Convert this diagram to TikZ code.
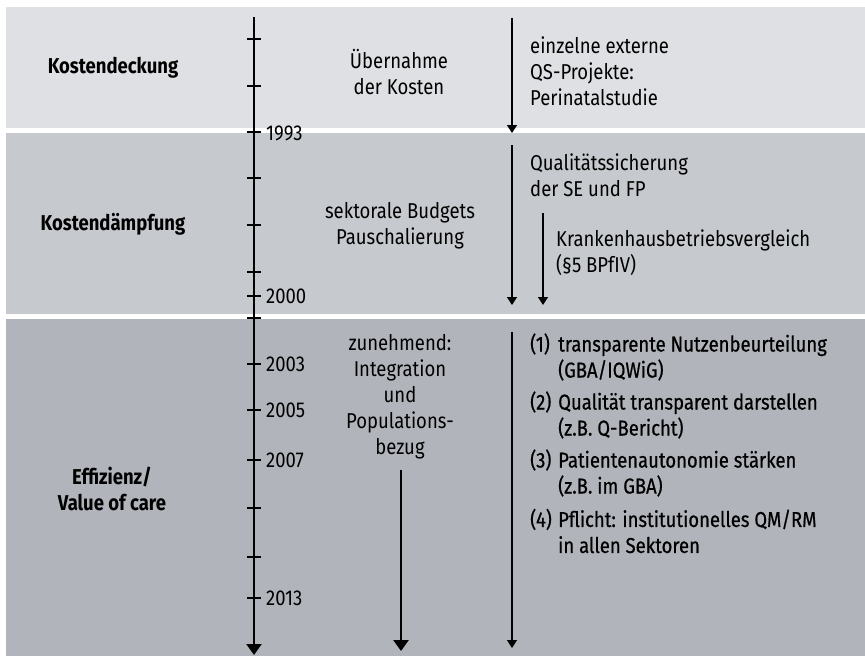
\documentclass[tikz,border=0pt]{standalone}
\usepackage{fontspec}
\setmainfont[FakeStretch=0.86]{Fira Sans}
\newfontfamily\medfont[FakeStretch=0.86,FakeBold=0.6]{Fira Sans}
\usetikzlibrary{arrows.meta}
\definecolor{bandA}{HTML}{DFE0E3}
\definecolor{bandB}{HTML}{C6C9CD}
\definecolor{bandC}{HTML}{B1B5BB}
\newcommand\txtsize{\fontsize{21.5}{26}\selectfont}
\tikzset{
  txt/.style={inner sep=0pt, font=\txtsize},
  phase/.style={txt, align=center, font=\txtsize\bfseries},
  listitem/.style={txt, font=\txtsize\medfont, align=left, anchor=west},
  year/.style={txt, anchor=west},
  axis/.style={line width=2.2pt, -{Triangle[length=11pt,width=15pt]}},
  trend/.style={line width=2.6pt, -{Triangle[length=11pt,width=15pt]}},
  span/.style={line width=1.3pt, -{Triangle[length=8pt,width=10pt]}},
  tick/.style={line width=1.3pt},
}
\begin{document}
\begin{tikzpicture}[x=1pt,y=-1pt]
\useasboundingbox (0,0) rectangle (865,656);
% phase bands
\fill[bandA] (6,7) rectangle (865,128);
\fill[bandB] (6,133) rectangle (865,314);
\fill[bandC] (6,319) rectangle (865,656);

% phase titles
\node[phase] (p1) at (113,68) {Kostendeckung};
\node[phase] (p2) at (113,224) {Kostendämpfung};
\node[phase] (p3) at (112,489) {Effizienz/\\Value of care};

% time axis
\coordinate (axtop) at (254,17);
\coordinate (axbot) at (254,655);
\draw[axis] (axtop) -- (axbot);
\foreach \y in {39,86,132,178,225,272,296,318,364,410,460,508,557,598}
  \draw[tick] (247,\y) -- (261,\y);
\node[year] (y1993) at (266,133) {1993};
\node[year] (y2000) at (266,296) {2000};
\node[year] (y2003) at (266,364) {2003};
\node[year] (y2005) at (266,410) {2005};
\node[year] (y2007) at (266,460) {2007};
\node[year] (y2013) at (266,598) {2013};

% financing column
\node[txt, align=center] (m1) at (399,72) {Übernahme\\der Kosten};
\node[txt, align=center] (m2) at (400,226) {sektorale Budgets\\Pauschalierung};
\node[txt, align=center] (m3) at (400,397) {zunehmend:\\Integration\\und\\Populations-\\bezug};
\coordinate (m3a) at (401,470);
\coordinate (m3b) at (401,651);
\draw[trend] (m3a) -- (m3b);

% quality column
\coordinate (q1a) at (512,18);
\coordinate (q1b) at (512,133);
\coordinate (q2a) at (512,145);
\coordinate (q2b) at (512,305);
\coordinate (q3a) at (543,213);
\coordinate (q3b) at (543,305);
\coordinate (q4a) at (512,332);
\coordinate (q4b) at (512,648);
\draw[span] (q1a) -- (q1b);
\draw[span] (q2a) -- (q2b);
\draw[span] (q3a) -- (q3b);
\draw[span] (q4a) -- (q4b);

\node[txt, align=left, anchor=west] (r1) at (530,71) {einzelne externe\\QS-Projekte:\\Perinatalstudie};
\node[txt, align=left, anchor=west] (r2) at (530,175) {Qualitätssicherung\\der SE und FP};
\node[txt, align=left, anchor=west] (r3) at (556,253) {Krankenhausbetriebsvergleich\\(§5 BPfIV)};

\def\num#1{\makebox[28pt][l]{#1}}
\node[listitem] (l1) at (530,357)
  {\num{(1)}transparente Nutzenbeurteilung\\\hspace*{28pt}(GBA/IQWiG)};
\node[listitem] (l2) at (530,415)
  {\num{(2)}Qualität transparent darstellen\\\hspace*{28pt}(z.B. Q-Bericht)};
\node[listitem] (l3) at (530,473)
  {\num{(3)}Patientenautonomie stärken\\\hspace*{28pt}(z.B. im GBA)};
\node[listitem] (l4) at (530,531)
  {\num{(4)}Pflicht: institutionelles QM/RM\\\hspace*{28pt}in allen Sektoren};
\end{tikzpicture}
\end{document}
